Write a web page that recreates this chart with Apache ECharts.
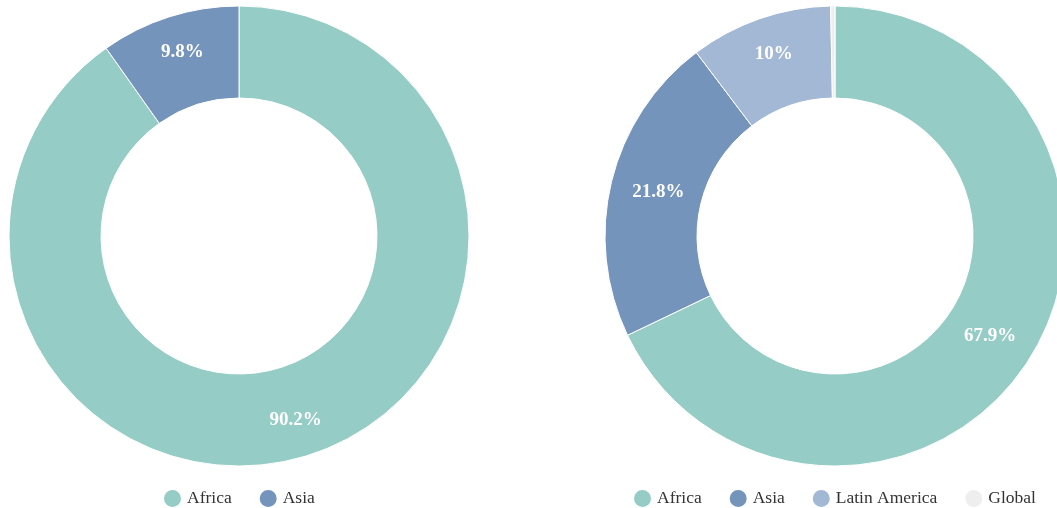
<!DOCTYPE html>
<html lang="en">
<head>
    <meta charset="UTF-8">
    <title>donuts</title>
    <style>
        html, body { margin: 0; padding: 0; background: #fff; }
        #main { width: 1057px; height: 508px; }
    </style>
</head>
<body>
<div id="main"></div>
<script src="https://cdn.jsdelivr.net/npm/echarts@6/dist/echarts.min.js"></script>
<script>
    // left donut
    var leftNames = ['Africa', 'Asia'];
    var leftValues = [90.2, 9.8];
    // right donut
    var rightNames = ['Africa', 'Asia', 'Latin America', 'Global'];
    var rightValues = [67.9, 21.8, 10, 0.3];

    var colorMap = {
        'Africa': '#95ccc5',
        'Asia': '#7594bc',
        'Latin America': '#a3b8d5',
        'Global': '#eeeeee'
    };

    function buildData(names, values) {
        return names.map(function (n, i) {
            var item = { name: n, value: values[i], itemStyle: { color: colorMap[n] } };
            if (n === 'Global') item.label = { show: false };
            return item;
        });
    }

    var centers = [[239, 236], [835, 236]];

    var labelStyle = {
        show: true,
        position: 'inside',
        color: '#fff',
        fontFamily: 'Liberation Serif',
        fontWeight: 'bold',
        fontSize: 19,
        formatter: function (p) { return p.value + '%'; }
    };

    // top/bottom labels sit a bit further out, side labels a bit further in
    function nudge(p) {
        var c = centers[p.seriesIndex];
        var r = p.labelRect;
        var mx = r.x + r.width / 2 - c[0];
        var my = r.y + r.height / 2 - c[1];
        var ex = Math.max(0, Math.abs(mx) - 120) / 12;
        var ey = Math.max(0, Math.abs(my) - 120) / 10;
        return { dx: mx > 0 ? -ex : ex, dy: my < 0 ? -ey : ey };
    }

    var legendText = { fontFamily: 'Liberation Serif', fontSize: 17.5, color: '#333' };

    function ring(idx, names, values) {
        return {
            type: 'pie',
            center: centers[idx],
            radius: [138, 230],
            startAngle: 90,
            label: labelStyle,
            labelLine: { show: false },
            labelLayout: nudge,
            itemStyle: { borderColor: '#fff', borderWidth: 1 },
            emphasis: { scale: false },
            data: buildData(names, values)
        };
    }

    var myChart = echarts.init(document.getElementById('main'));
    var option = {
        animation: false,
        legend: [{
            data: leftNames,
            left: 157,
            top: 483,
            icon: 'circle',
            itemWidth: 19,
            itemHeight: 19,
            itemGap: 26,
            textStyle: legendText
        }, {
            data: rightNames,
            left: 627,
            top: 483,
            icon: 'circle',
            itemWidth: 19,
            itemHeight: 19,
            itemGap: 26,
            textStyle: legendText
        }],
        series: [ring(0, leftNames, leftValues), ring(1, rightNames, rightValues)]
    };
    myChart.setOption(option);
</script>
</body>
</html>
